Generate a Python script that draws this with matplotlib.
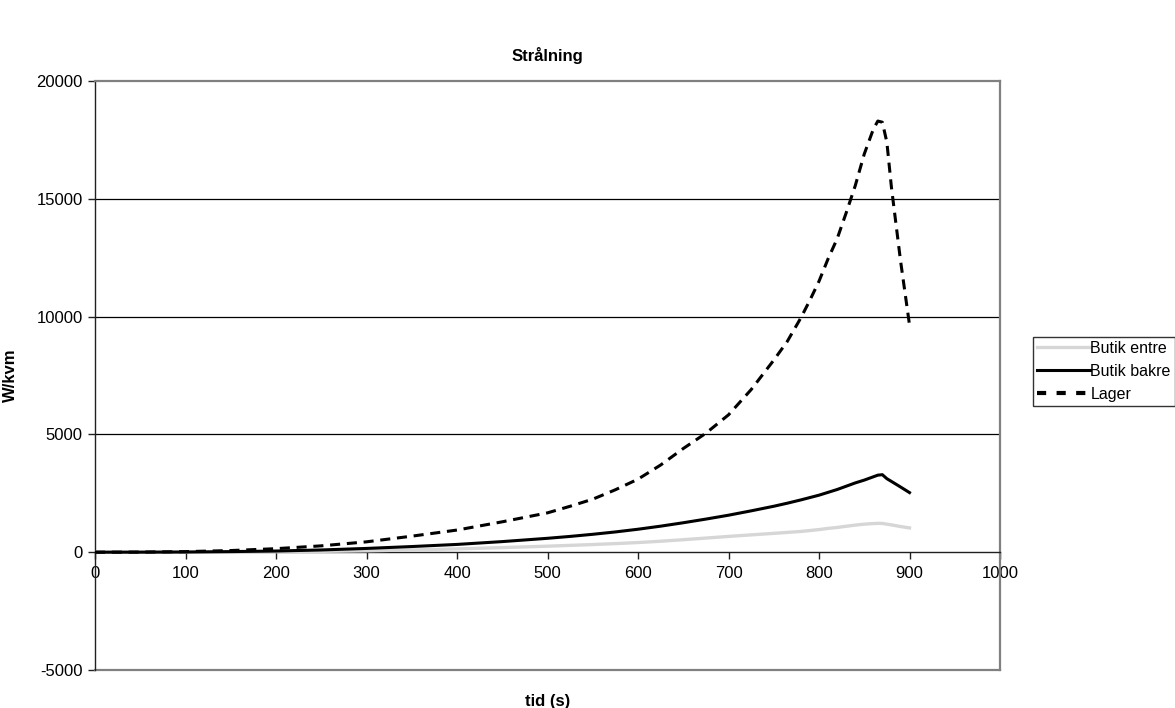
import matplotlib
matplotlib.use("Agg")
import matplotlib.pyplot as plt
from matplotlib.lines import Line2D

plt.rcParams['font.family'] = ['Liberation Sans', 'DejaVu Sans']
plt.rcParams['axes.unicode_minus'] = False

# Time axis (s)
time_s = [0, 50, 100, 150, 200, 250, 300, 350, 400, 450, 500, 525, 550, 575, 600, 625, 650,
          675, 700, 725, 750, 765, 780, 790, 800, 810, 820, 830, 840, 850, 860, 865, 870,
          875, 880, 890, 900]

# Radiation (W/kvm) per location
butik_entre = [0, 1, 3, 8, 18, 35, 60, 95, 140, 195, 255, 290, 325, 365, 410, 465, 530,
               600, 670, 735, 800, 840, 880, 920, 960, 1010, 1050, 1100, 1150, 1190, 1215, 1225, 1220,
               1190, 1160, 1090, 1030]
butik_bakre = [0, 2, 8, 25, 50, 95, 160, 240, 330, 450, 590, 670, 760, 860, 975, 1105, 1250,
               1405, 1570, 1755, 1950, 2080, 2220, 2320, 2420, 2540, 2660, 2800, 2940, 3060, 3200, 3270, 3290,
               3120, 3005, 2770, 2530]
lager = [0, 5, 25, 70, 150, 270, 440, 680, 940, 1290, 1670, 1950, 2250, 2650, 3100, 3700, 4400,
         5050, 5830, 6900, 8150, 8950, 9950, 10700, 11500, 12450, 13300, 14400, 15550, 16900, 17950, 18300, 18250,
         17400, 15500, 12400, 9650]

series_names = ["Butik entre", "Butik bakre", "Lager"]

x_ticks = list(range(0, 1001, 100))
y_ticks = list(range(-5000, 20001, 5000))

FS = 12

W, H = 1175, 708
fig = plt.figure(figsize=(W / 100, H / 100), dpi=100)
ax = fig.add_axes([95 / W, 1 - 670 / H, (1000 - 95) / W, (670 - 81) / H])

ax.set_xlim(0, 1000)
ax.set_ylim(-5000, 20000)

# horizontal gridlines
for yv in [5000, 10000, 15000]:
    ax.axhline(yv, color='black', lw=0.9, zorder=1)

ax.plot(time_s, butik_entre, color='#d6d6d6', lw=2.4, zorder=3, solid_joinstyle='round')
ax.plot(time_s, butik_bakre, color='black', lw=2.2, zorder=4, solid_joinstyle='round')
ax.plot(time_s, lager, color='black', lw=2.2, zorder=5, dashes=(3.3, 2.2))

# frame: dark left spine, grey top/right, x axis crossing at zero
ax.spines['left'].set_color('#202020')
ax.spines['left'].set_linewidth(1.0)
for s in ['top', 'right']:
    ax.spines[s].set_color('#808080')
    ax.spines[s].set_linewidth(1.6)
ax.spines['bottom'].set_position(('data', 0))
ax.spines['bottom'].set_color('#202020')
ax.spines['bottom'].set_linewidth(1.0)
ax.axhline(-5000, color='#808080', lw=1.6, clip_on=False, zorder=2)

ax.set_xticks(x_ticks)
ax.set_yticks(y_ticks)
ax.tick_params(axis='both', direction='out', length=5, width=1, color='#202020',
               labelsize=FS, pad=4)
ax.tick_params(axis='x', pad=5)

ax.set_xlabel("tid (s)", fontsize=FS, fontweight='bold')
ax.xaxis.set_label_coords(0.5, -0.04)
ax.set_ylabel("W/kvm", fontsize=FS, fontweight='bold')
ax.yaxis.set_label_coords(-0.085, 0.5)
fig.text(547.5 / W, 1 - 55 / H, "Strålning", ha='center', va='center',
         fontsize=FS, fontweight='bold')

handles = [Line2D([], [], color='#d6d6d6', lw=2.4),
           Line2D([], [], color='black', lw=2.2),
           Line2D([], [], color='black', lw=3.0, dashes=(2.2, 2.5))]
leg = fig.legend(handles, series_names, loc='upper left',
                 bbox_to_anchor=(1033 / W, 1 - 337 / H), fontsize=11.5,
                 frameon=True, fancybox=False, handlelength=3.3, handletextpad=0.05,
                 borderpad=0.25, labelspacing=0.5, borderaxespad=0)
leg.get_frame().set_edgecolor('black')
leg.get_frame().set_linewidth(1.0)

fig.savefig("out.png", dpi=100)
